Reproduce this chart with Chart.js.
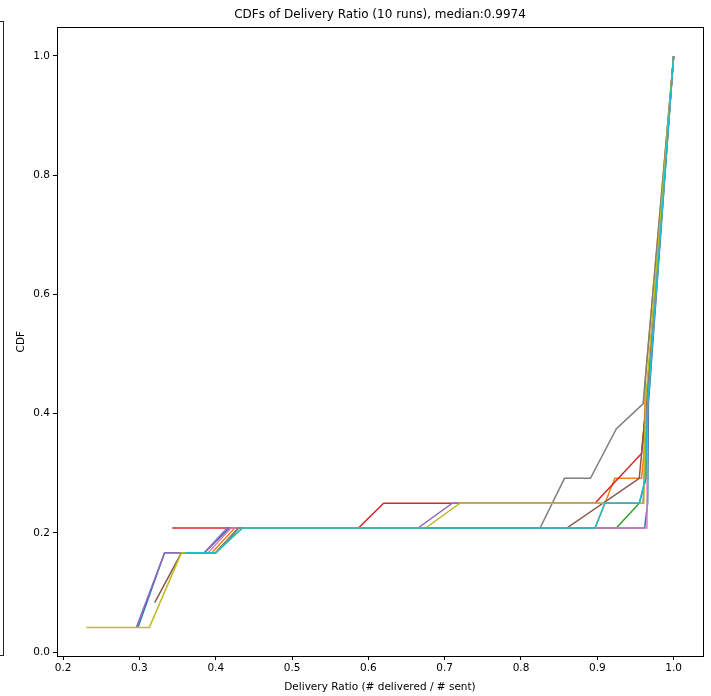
<!DOCTYPE html>
<html>
<head>
<meta charset="utf-8">
<script src="https://cdn.jsdelivr.net/npm/chart.js@4.4.0/dist/chart.umd.min.js"></script>
<style>
  html, body { margin: 0; padding: 0; background: #fff; }
  #wrap { position: relative; width: 711px; height: 696px; overflow: hidden; }
  #vizinho { position: absolute; left: -10px; top: 21px; width: 14px; height: 635px;
             border: 1px solid #222; border-left: none; box-sizing: border-box; }
  #grafico { position: absolute; left: 0; top: 0; }
</style>
</head>
<body>
<div id="wrap">
  <div id="vizinho"></div>
  <canvas id="grafico" width="711" height="696"></canvas>
</div>
<script>
// ===== DADOS =====
const xTicks = [0.2, 0.3, 0.4, 0.5, 0.6, 0.7, 0.8, 0.9, 1.0];
const yTicks = [0.0, 0.2, 0.4, 0.6, 0.8, 1.0];
const cores = ["#1f77b4", "#ff7f0e", "#2ca02c", "#d62728", "#9467bd",
               "#8c564b", "#e377c2", "#7f7f7f", "#bcbd22", "#17becf"];

// uma curva CDF por execução (x = delivery ratio, y = CDF)
const run0X = [0.298, 0.333, 0.385, 0.418, 0.962, 0.966, 0.967, 1.0];
const run0Y = [0.0417, 0.1667, 0.1667, 0.2083, 0.2083, 0.25, 0.4167, 1.0];
const run1X = [0.355, 0.395, 0.425, 0.897, 0.923, 0.958, 0.961, 0.963, 1.0];
const run1Y = [0.1667, 0.1667, 0.2083, 0.2083, 0.2917, 0.2917, 0.3333, 0.4583, 1.0];
const run2X = [0.357, 0.400, 0.430, 0.925, 0.955, 0.964, 0.966, 1.0];
const run2Y = [0.1667, 0.1667, 0.2083, 0.2083, 0.25, 0.2917, 0.4167, 1.0];
const run3X = [0.343, 0.587, 0.620, 0.897, 0.958, 0.964, 1.0];
const run3Y = [0.2083, 0.2083, 0.25, 0.25, 0.3333, 0.4167, 1.0];
const run4X = [0.296, 0.333, 0.385, 0.415, 0.665, 0.710, 0.960, 0.965, 1.0];
const run4Y = [0.0417, 0.1667, 0.1667, 0.2083, 0.2083, 0.25, 0.25, 0.4167, 1.0];
const run5X = [0.320, 0.355, 0.400, 0.430, 0.860, 0.955, 0.964, 1.0];
const run5Y = [0.0833, 0.1667, 0.1667, 0.2083, 0.2083, 0.2917, 0.4167, 1.0];
const run6X = [0.390, 0.420, 0.965, 0.966, 1.0];
const run6Y = [0.1667, 0.2083, 0.2083, 0.4167, 1.0];
const run7X = [0.360, 0.400, 0.430, 0.825, 0.857, 0.891, 0.925, 0.960, 1.0];
const run7Y = [0.1667, 0.1667, 0.2083, 0.2083, 0.2917, 0.2917, 0.375, 0.4167, 1.0];
const run8X = [0.2305, 0.313, 0.355, 0.400, 0.435, 0.675, 0.720, 0.961, 0.963, 1.0];
const run8Y = [0.0417, 0.0417, 0.1667, 0.1667, 0.2083, 0.2083, 0.25, 0.25, 0.4167, 1.0];
const run9X = [0.360, 0.400, 0.435, 0.897, 0.910, 0.955, 0.963, 0.966, 1.0];
const run9Y = [0.1667, 0.1667, 0.2083, 0.2083, 0.25, 0.25, 0.2917, 0.4167, 1.0];

const runsX = [run0X, run1X, run2X, run3X, run4X, run5X, run6X, run7X, run8X, run9X];
const runsY = [run0Y, run1Y, run2Y, run3Y, run4Y, run5Y, run6Y, run7Y, run8Y, run9Y];

// ===== MONTA DATASETS =====
const datasets = runsX.map((xs, i) => ({
  label: "run " + (i + 1),
  data: xs.map((x, j) => ({ x: x, y: runsY[i][j] })),
  borderColor: cores[i],
  borderWidth: 1.5,
  pointRadius: 0,
  showLine: true,
  fill: false,
  order: 10 - i // a última execução fica por cima, como no matplotlib
}));

// moldura completa do eixo (4 lados)
const moldura = {
  id: "moldura",
  afterDraw(chart) {
    const a = chart.chartArea;
    const c = chart.ctx;
    c.save();
    c.strokeStyle = "#000";
    c.lineWidth = 1;
    c.strokeRect(Math.round(a.left) + 0.5, Math.round(a.top) + 0.5,
                 Math.round(a.right - a.left), Math.round(a.bottom - a.top));
    c.restore();
  }
};

const fonte = "'DejaVu Sans', sans-serif";

new Chart(document.getElementById("grafico"), {
  type: "scatter",
  data: { datasets: datasets },
  plugins: [moldura],
  options: {
    responsive: false,
    animation: false,
    layout: { padding: { left: 0, right: 8, top: 0, bottom: 0 } },
    plugins: {
      legend: { display: false },
      tooltip: { enabled: false },
      title: {
        display: true,
        fullSize: false,
        text: "CDFs of Delivery Ratio (10 runs), median:0.9974",
        color: "#000",
        font: { family: fonte, size: 12, weight: "normal", lineHeight: 1.2 },
        padding: { top: 8, bottom: 5 }
      }
    },
    scales: {
      x: {
        type: "linear",
        min: 0.192,
        max: 1.0385,
        afterFit: s => { s.height = 40; },
        afterBuildTicks: s => { s.ticks = xTicks.map(v => ({ value: v })); },
        ticks: { color: "#000", font: { family: fonte, size: 10.5 }, padding: 2,
                 maxRotation: 0, autoSkip: false, callback: v => v.toFixed(1) },
        grid: { display: true, drawOnChartArea: false, drawTicks: true,
                tickLength: 4, color: "#000" },
        border: { display: false },
        title: { display: true, text: "Delivery Ratio (# delivered / # sent)", color: "#000",
                 font: { family: fonte, size: 10.5 }, padding: { top: 0, bottom: 2 } }
      },
      y: {
        type: "linear",
        min: -0.0063,
        max: 1.0479,
        afterFit: s => { s.width = 57; },
        afterBuildTicks: s => { s.ticks = yTicks.map(v => ({ value: v })); },
        ticks: { color: "#000", font: { family: fonte, size: 10.5 }, padding: 3,
                 autoSkip: false, callback: v => v.toFixed(1) },
        grid: { display: true, drawOnChartArea: false, drawTicks: true,
                tickLength: 4, color: "#000" },
        border: { display: false },
        title: { display: true, text: "CDF", color: "#000",
                 font: { family: fonte, size: 10.5 }, padding: { top: 15, bottom: 0 } }
      }
    }
  }
});
</script>
</body>
</html>
